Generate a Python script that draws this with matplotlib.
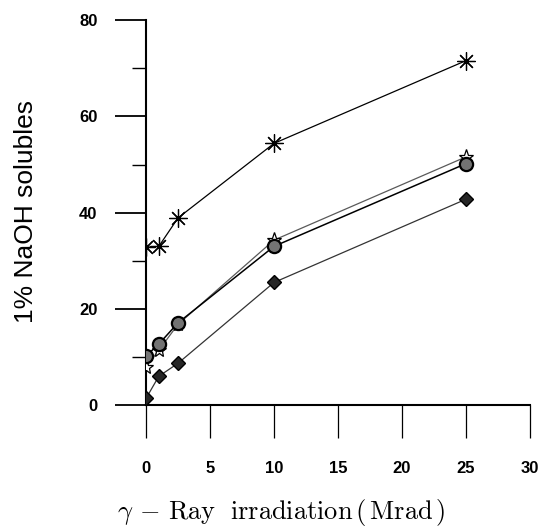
import matplotlib
matplotlib.use("Agg")
import matplotlib.pyplot as plt

# Dose de rayonnement (Mrad)
dose = [0, 1, 2.5, 10, 25]

# Solubles NaOH 1% (%)
asterisque = [32.8, 33.0, 38.9, 54.4, 71.6]
etoile = [8.0, 11.4, 16.8, 34.3, 51.6]
cercle = [10.2, 12.7, 17.1, 33.0, 50.2]
losange = [1.4, 6.0, 8.7, 25.5, 42.8]

x_ticks = [0, 5, 10, 15, 20, 25, 30]
y_ticks = [0, 20, 40, 60, 80]
y_minor = [10, 30, 50, 70]

plt.rcParams["mathtext.fontset"] = "cm"

fig = plt.figure(figsize=(5.51, 5.31), dpi=100)
ax = fig.add_axes([0.265, 0.237, 0.697, 0.725])

ax.plot(dose, asterisque, color="black", lw=0.9, marker=(8, 2, 0),
        markersize=13, markeredgewidth=0.9, zorder=3)
ax.plot(dose, etoile, color="0.35", lw=0.9, marker="*", markersize=11,
        markerfacecolor="white", markeredgecolor="black", markeredgewidth=0.9, zorder=3)
ax.plot(dose, cercle, color="black", lw=1.1, marker="o", markersize=9.5,
        markerfacecolor="0.45", markeredgecolor="black", markeredgewidth=1.6, zorder=4)
ax.plot(dose, losange, color="0.2", lw=0.9, marker="D", markersize=7,
        markerfacecolor="0.15", markeredgecolor="black", markeredgewidth=1.0, zorder=4)

ax.set_xlim(0, 30)
ax.set_ylim(0, 80)
ax.set_xticks(x_ticks)
ax.set_yticks(y_ticks)
ax.set_yticks(y_minor, minor=True)

# Axes : seulement gauche et bas
for s in ["top", "right"]:
    ax.spines[s].set_visible(False)
for s in ["left", "bottom"]:
    ax.spines[s].set_linewidth(1.5)

ax.tick_params(axis="x", direction="out", length=24, width=0.9, pad=16)
ax.tick_params(axis="y", which="major", direction="out", length=22, width=1.3, pad=13)
ax.tick_params(axis="y", which="minor", direction="out", length=10, width=1.0)

for lab in ax.get_xticklabels() + ax.get_yticklabels():
    lab.set_fontfamily("Liberation Sans")
    lab.set_fontweight("bold")
    lab.set_fontsize(12)

ax.set_ylabel("1% NaOH solubles", fontfamily="Liberation Sans", fontsize=19)
ax.yaxis.set_label_coords(-0.28, 0.504)
ax.set_xlabel(r"$\gamma\, -\, \mathrm{Ray\ \ irradiation\,(\,Mrad\,)}$", fontsize=19)
ax.xaxis.set_label_coords(0.352, -0.238)

fig.savefig("out.png", dpi=100)
